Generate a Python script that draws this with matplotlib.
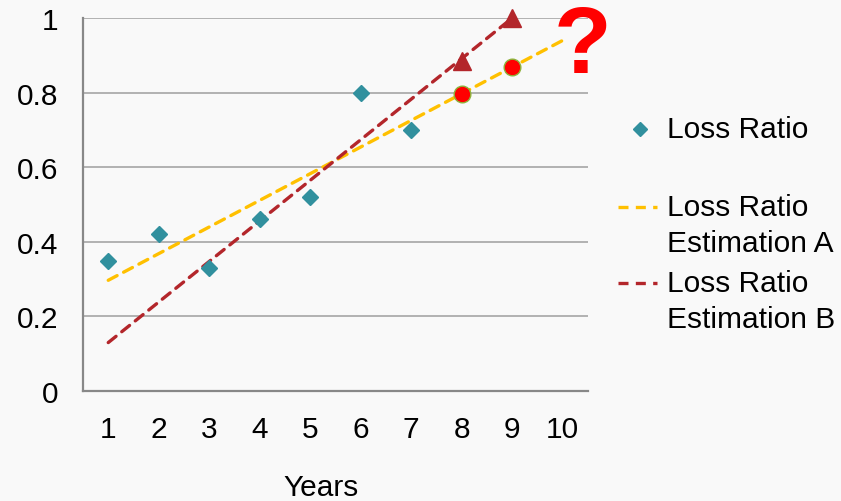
import matplotlib
matplotlib.use('Agg')
import matplotlib.pyplot as plt
from matplotlib.lines import Line2D

plt.rcParams['font.family'] = ['Liberation Sans', 'DejaVu Sans']

# Observed loss ratios by year
years = [1, 2, 3, 4, 5, 6, 7]
loss_ratio = [0.35, 0.42, 0.33, 0.46, 0.52, 0.80, 0.70]

# Estimation A (linear trend), endpoints and projected points
est_a_years = [1, 10]
est_a_vals = [0.297, 0.94]
proj_a_years = [8, 9]
proj_a_vals = [0.797, 0.868]

# Estimation B, endpoints and projected points
est_b_years = [1, 9]
est_b_vals = [0.13, 1.0]
proj_b_years = [8, 9]
proj_b_vals = [0.885, 1.0]

xticks = list(range(1, 11))
yticks = [0, 0.2, 0.4, 0.6, 0.8, 1]

teal = '#31909E'
yellow = '#FFC000'
darkred = '#B3262B'
bg = '#F9F9F9'
fs = 21.5

fig = plt.figure(figsize=(8.41, 5.02), dpi=100, facecolor=bg)
ax = fig.add_axes([0.0987, 0.219, 0.6003, 0.743], facecolor=bg)

ax.plot(est_a_years, est_a_vals, color=yellow, lw=2.4, dashes=(3, 2.2),
        dash_capstyle='round', zorder=3)
ax.plot(est_b_years, est_b_vals, color=darkred, lw=2.4, dashes=(3, 2.2),
        dash_capstyle='round', zorder=3, clip_on=False)
ax.plot(years, loss_ratio, linestyle='none', marker='D', ms=8,
        color=teal, zorder=4)
ax.plot(proj_a_years, proj_a_vals, linestyle='none', marker='o', ms=12,
        markerfacecolor='#FF0000', markeredgecolor='#8DB33A', mew=1, zorder=5)
ax.plot(proj_b_years, proj_b_vals, linestyle='none', marker='^', ms=13,
        color=darkred, zorder=5, clip_on=False)

ax.set_xlim(0.5, 10.5)
ax.set_ylim(0, 1)
ax.set_xticks(xticks)
ax.set_yticks(yticks)
ax.set_yticklabels(['0', '0.2', '0.4', '0.6', '0.8', '1'])
ax.tick_params(axis='both', length=0, labelsize=fs, pad=18)
ax.tick_params(axis='x', pad=17)
ax.grid(axis='y', color='#A6A6A6', lw=1.2)
ax.set_axisbelow(True)
for side in ['top', 'right']:
    ax.spines[side].set_visible(False)
for side in ['left', 'bottom']:
    ax.spines[side].set_color('#888888')
    ax.spines[side].set_linewidth(1.6)

# Axis title sits a little left of the plot centre
fig.text(321 / 841, 0.012, 'Years', fontsize=fs, ha='center', va='baseline')

# Big question mark for the unknown year 10
fig.text(583 / 841, 1 - 73 / 502, '?', color='#FF0000', fontsize=68,
         fontweight='bold', ha='center', va='baseline', zorder=6)

# Legend drawn by hand so handles sit on the first text line
tx = 667 / 841
fig.add_artist(Line2D([640 / 841], [1 - 130 / 502], marker='D', ms=7,
                      color=teal, transform=fig.transFigure))
fig.text(tx, 1 - 130 / 502, 'Loss Ratio', fontsize=fs, va='center')
fig.add_artist(Line2D([618 / 841, 657 / 841], [1 - 208 / 502] * 2,
                      color=yellow, lw=2.4, dashes=(3, 2.2),
                      transform=fig.transFigure))
fig.text(tx, 1 - 208 / 502, 'Loss Ratio', fontsize=fs, va='center')
fig.text(tx, 1 - 244 / 502, 'Estimation A', fontsize=fs, va='center')
fig.add_artist(Line2D([618 / 841, 657 / 841], [1 - 284 / 502] * 2,
                      color=darkred, lw=2.4, dashes=(3, 2.2),
                      transform=fig.transFigure))
fig.text(tx, 1 - 284 / 502, 'Loss Ratio', fontsize=fs, va='center')
fig.text(tx, 1 - 320 / 502, 'Estimation B', fontsize=fs, va='center')

fig.savefig('out.png', dpi=100, facecolor=bg)
